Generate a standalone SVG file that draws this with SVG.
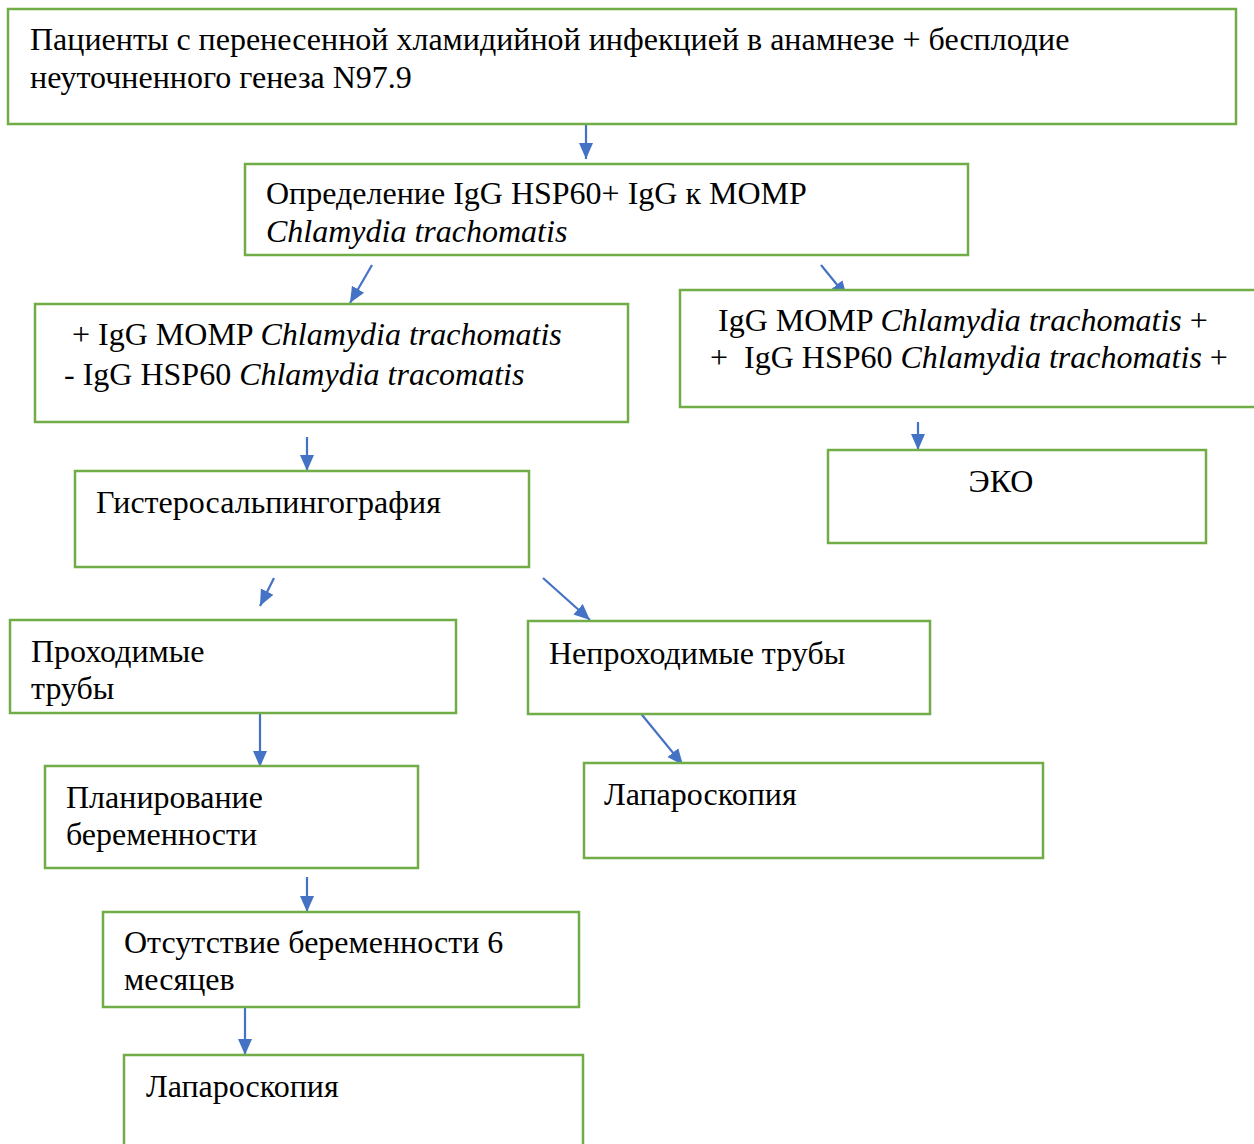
<svg xmlns="http://www.w3.org/2000/svg" width="1254" height="1144" viewBox="0 0 1254 1144">
<defs>
<style>
.box{fill:#fff;stroke:#70AD47;stroke-width:2.5}
.t{font-family:"Liberation Serif","Times New Roman",serif;font-size:32px;fill:#000}
.i{font-style:italic}
.c{stroke:#4472C4;stroke-width:2.2;fill:none;marker-end:url(#ah)}
</style>
<marker id="ah" markerUnits="userSpaceOnUse" markerWidth="18" markerHeight="16" refX="16" refY="8" orient="auto">
<path d="M0,1 L16,8 L0,15 z" fill="#4472C4"/>
</marker>
</defs>
<rect width="1254" height="1144" fill="#fff"/>
<g id="connectors">
<line class="c" x1="586" y1="124" x2="586" y2="159"/>
<line class="c" x1="372" y1="265" x2="350" y2="303"/>
<line class="c" x1="821" y1="265" x2="847" y2="297"/>
<line class="c" x1="307" y1="437" x2="307" y2="471"/>
<line class="c" x1="918" y1="422" x2="918" y2="450"/>
<line class="c" x1="274" y1="578" x2="260" y2="606"/>
<line class="c" x1="543" y1="578" x2="590" y2="620"/>
<line class="c" x1="638" y1="710" x2="683" y2="765"/>
<line class="c" x1="260" y1="713" x2="260" y2="767"/>
<line class="c" x1="307" y1="877" x2="307" y2="912"/>
<line class="c" x1="245" y1="1000" x2="245" y2="1055"/>
</g>
<g id="n1"><rect class="box" x="8" y="9" width="1228" height="115"/>
<text class="t" x="30" y="50">Пациенты с перенесенной хламидийной инфекцией в анамнезе + бесплодие</text>
<text class="t" x="30" y="88">неуточненного генеза N97.9</text></g>
<g id="n2"><rect class="box" x="245" y="164" width="723" height="91"/>
<text class="t" x="266" y="204">Определение IgG HSP60+ IgG к MOMP</text>
<text class="t i" x="266" y="242">Chlamydia trachomatis</text></g>
<g id="n3"><rect class="box" x="35" y="304" width="593" height="118"/>
<text class="t" x="72" y="345">+ IgG MOMP <tspan class="i">Chlamydia trachomatis</tspan></text>
<text class="t" x="64" y="385">- IgG HSP60 <tspan class="i">Chlamydia tracomatis</tspan></text></g>
<g id="n4"><rect class="box" x="680" y="290" width="590" height="117"/>
<text class="t" x="718" y="331">IgG MOMP <tspan class="i">Chlamydia trachomatis</tspan> +</text>
<text class="t" x="710" y="368" xml:space="preserve">+  IgG HSP60 <tspan class="i">Chlamydia trachomatis</tspan> +</text></g>
<g id="n5"><rect class="box" x="75" y="471" width="454" height="96"/>
<text class="t" x="96" y="513">Гистеросальпингография</text></g>
<g id="n6"><rect class="box" x="828" y="450" width="378" height="93"/>
<text class="t" x="1001" y="492" text-anchor="middle">ЭКО</text></g>
<g id="n7"><rect class="box" x="10" y="620" width="446" height="93"/>
<text class="t" x="31" y="662">Проходимые</text>
<text class="t" x="31" y="699">трубы</text></g>
<g id="n8"><rect class="box" x="528" y="621" width="402" height="93"/>
<text class="t" x="549" y="664">Непроходимые трубы</text></g>
<g id="n9"><rect class="box" x="584" y="763" width="459" height="95"/>
<text class="t" x="604" y="805">Лапароскопия</text></g>
<g id="n10"><rect class="box" x="45" y="766" width="373" height="102"/>
<text class="t" x="66" y="808">Планирование</text>
<text class="t" x="66" y="845">беременности</text></g>
<g id="n11"><rect class="box" x="103" y="912" width="476" height="95"/>
<text class="t" x="124" y="953">Отсутствие беременности 6</text>
<text class="t" x="124" y="990">месяцев</text></g>
<g id="n12"><rect class="box" x="124" y="1055" width="459" height="100"/>
<text class="t" x="146" y="1097">Лапароскопия</text></g>
</svg>
